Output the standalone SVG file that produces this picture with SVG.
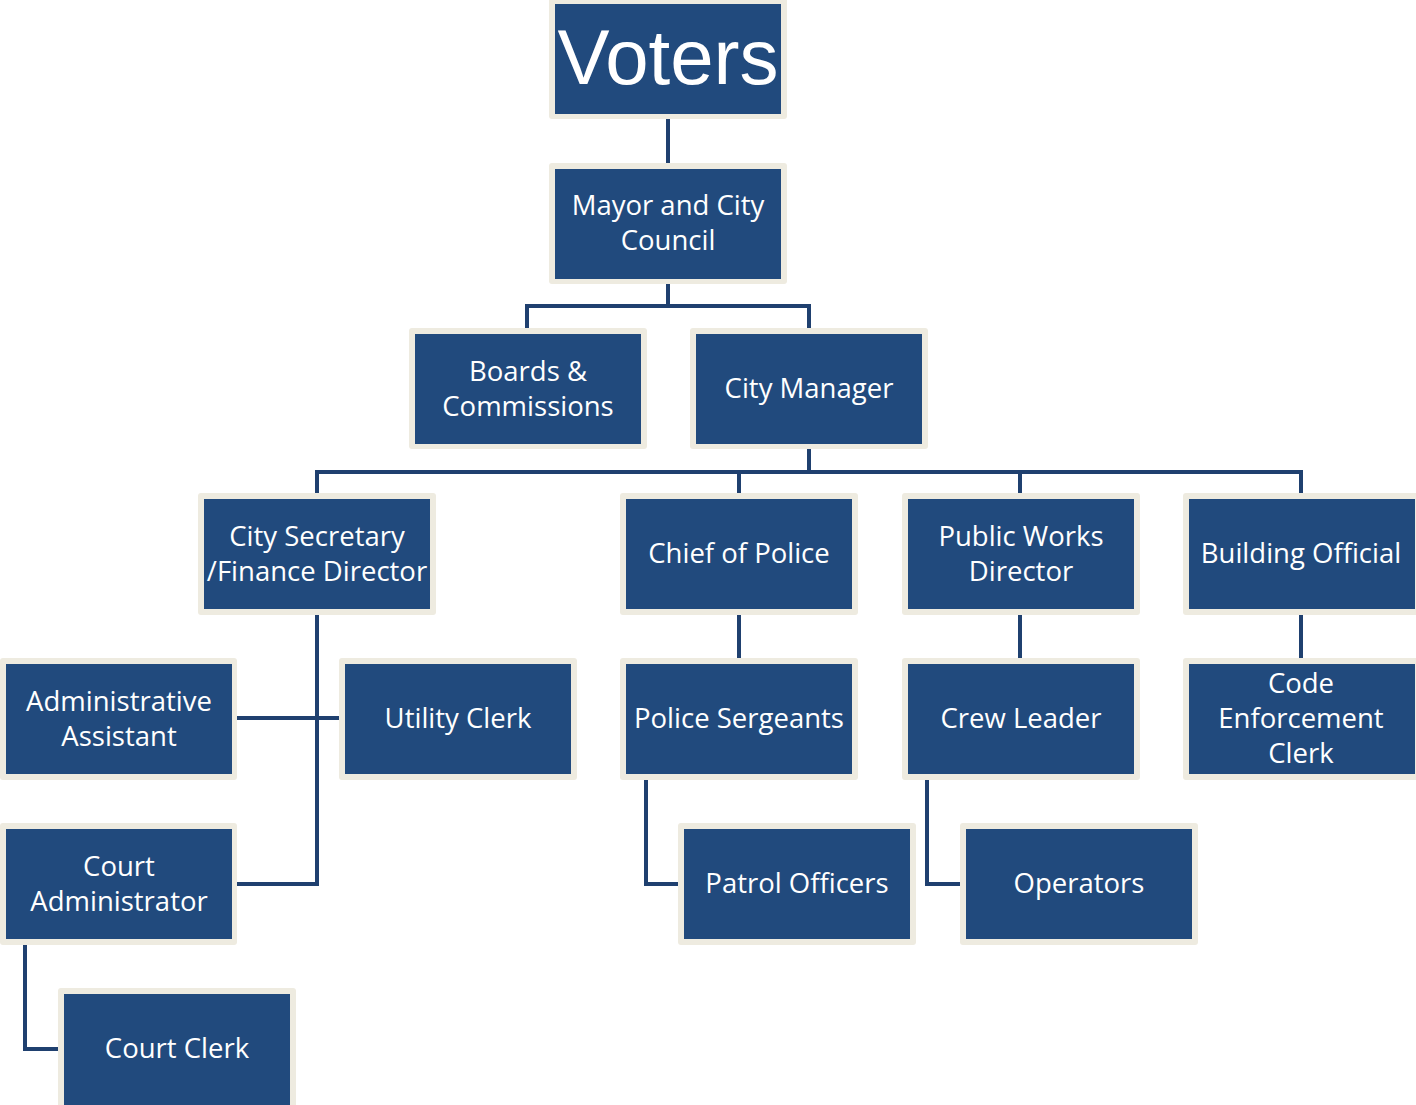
<svg xmlns="http://www.w3.org/2000/svg" width="1416" height="1105" viewBox="0 0 1416 1105">
  <style>
    .frame { fill: #EEEBE0; }
    .box { fill: #214A7D; }
    .lbl { fill: #FFFFFF; font-family: "Open Sans", "Liberation Sans", Arial, sans-serif; font-size: 27.5px; text-anchor: middle; }
    .big { font-family: "Liberation Sans", Arial, sans-serif; font-size: 78px; }
    .wire { fill: none; stroke: #1F406F; stroke-width: 4; stroke-linejoin: miter; }
  </style>
  <rect width="1416" height="1105" fill="#FFFFFF"/>

  <!-- connectors -->
  <g id="connectors" class="wire">
    <path d="M668 119 V163"/>
    <path d="M668 284 V306 M527 328 V306 H809 V328"/>
    <path d="M809 449 V472 M317 493 V472 H1301 V493 M739 472 V493 M1020 472 V493"/>
    <path d="M317 615 V884 H237 M237 718 H339"/>
    <path d="M739 615 V658"/>
    <path d="M646 780 V884 H678"/>
    <path d="M1020 615 V658"/>
    <path d="M927 780 V884 H960"/>
    <path d="M1301 615 V658"/>
    <path d="M25 945 V1049 H58"/>
  </g>

  <!-- nodes -->
  <g id="voters">
    <rect class="frame" x="549" y="-2" width="238" height="121" rx="3"/>
    <rect class="box" x="555" y="4" width="226" height="110"/>
    <text class="lbl big" x="668" y="84">Voters</text>
  </g>
  <g id="mayor-council">
    <rect class="frame" x="549" y="163" width="238" height="121" rx="3"/>
    <rect class="box" x="555" y="169" width="226" height="110"/>
    <text class="lbl" x="668" y="215">Mayor and City</text>
    <text class="lbl" x="668" y="250">Council</text>
  </g>
  <g id="boards-commissions">
    <rect class="frame" x="409" y="328" width="238" height="121" rx="3"/>
    <rect class="box" x="415" y="334" width="226" height="110"/>
    <text class="lbl" x="528" y="381">Boards &amp;</text>
    <text class="lbl" x="528" y="416">Commissions</text>
  </g>
  <g id="city-manager">
    <rect class="frame" x="690" y="328" width="238" height="121" rx="3"/>
    <rect class="box" x="696" y="334" width="226" height="110"/>
    <text class="lbl" x="809" y="398">City Manager</text>
  </g>
  <g id="city-secretary">
    <rect class="frame" x="198" y="493" width="238" height="122" rx="3"/>
    <rect class="box" x="204" y="499" width="226" height="110"/>
    <text class="lbl" x="317" y="546">City Secretary</text>
    <text class="lbl" x="317" y="581">/Finance Director</text>
  </g>
  <g id="chief-of-police">
    <rect class="frame" x="620" y="493" width="238" height="122" rx="3"/>
    <rect class="box" x="626" y="499" width="226" height="110"/>
    <text class="lbl" x="739" y="563">Chief of Police</text>
  </g>
  <g id="public-works">
    <rect class="frame" x="902" y="493" width="238" height="122" rx="3"/>
    <rect class="box" x="908" y="499" width="226" height="110"/>
    <text class="lbl" x="1021" y="546">Public Works</text>
    <text class="lbl" x="1021" y="581">Director</text>
  </g>
  <g id="building-official">
    <rect class="frame" x="1183" y="493" width="238" height="122" rx="3"/>
    <rect class="box" x="1189" y="499" width="226" height="110"/>
    <text class="lbl" x="1301" y="563">Building Official</text>
  </g>
  <g id="administrative-assistant">
    <rect class="frame" x="0" y="658" width="237" height="122" rx="3"/>
    <rect class="box" x="6" y="664" width="226" height="110"/>
    <text class="lbl" x="119" y="711">Administrative</text>
    <text class="lbl" x="119" y="746">Assistant</text>
  </g>
  <g id="utility-clerk">
    <rect class="frame" x="339" y="658" width="238" height="122" rx="3"/>
    <rect class="box" x="345" y="664" width="226" height="110"/>
    <text class="lbl" x="458" y="728">Utility Clerk</text>
  </g>
  <g id="police-sergeants">
    <rect class="frame" x="620" y="658" width="238" height="122" rx="3"/>
    <rect class="box" x="626" y="664" width="226" height="110"/>
    <text class="lbl" x="739" y="728">Police Sergeants</text>
  </g>
  <g id="crew-leader">
    <rect class="frame" x="902" y="658" width="238" height="122" rx="3"/>
    <rect class="box" x="908" y="664" width="226" height="110"/>
    <text class="lbl" x="1021" y="728">Crew Leader</text>
  </g>
  <g id="code-enforcement-clerk">
    <rect class="frame" x="1183" y="658" width="238" height="122" rx="3"/>
    <rect class="box" x="1189" y="664" width="226" height="110"/>
    <text class="lbl" x="1301" y="693">Code</text>
    <text class="lbl" x="1301" y="728">Enforcement</text>
    <text class="lbl" x="1301" y="763">Clerk</text>
  </g>
  <g id="court-administrator">
    <rect class="frame" x="0" y="823" width="237" height="122" rx="3"/>
    <rect class="box" x="6" y="829" width="226" height="110"/>
    <text class="lbl" x="119" y="876">Court</text>
    <text class="lbl" x="119" y="911">Administrator</text>
  </g>
  <g id="patrol-officers">
    <rect class="frame" x="678" y="823" width="238" height="122" rx="3"/>
    <rect class="box" x="684" y="829" width="226" height="110"/>
    <text class="lbl" x="797" y="893">Patrol Officers</text>
  </g>
  <g id="operators">
    <rect class="frame" x="960" y="823" width="238" height="122" rx="3"/>
    <rect class="box" x="966" y="829" width="226" height="110"/>
    <text class="lbl" x="1079" y="893">Operators</text>
  </g>
  <g id="court-clerk">
    <rect class="frame" x="58" y="988" width="238" height="125" rx="3"/>
    <rect class="box" x="64" y="994" width="226" height="120"/>
    <text class="lbl" x="177" y="1058">Court Clerk</text>
  </g>
</svg>
